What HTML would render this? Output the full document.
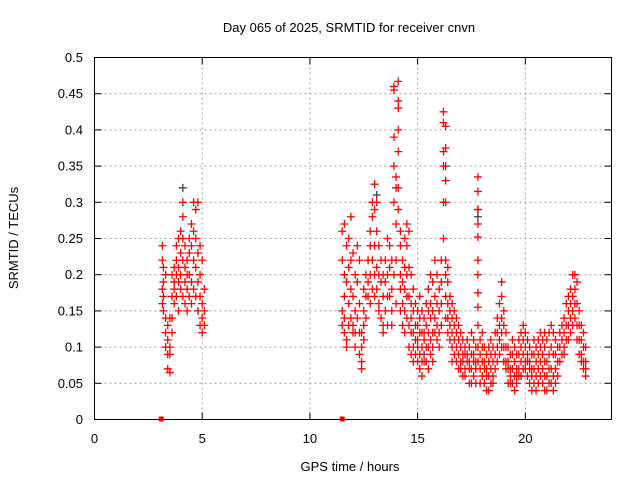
<!DOCTYPE html>
<html><head><meta charset="utf-8"><style>
html,body{margin:0;padding:0;background:#fff}
svg{display:block;font-family:"Liberation Sans",sans-serif}
</style></head><body>
<svg id="chart" width="640" height="480" viewBox="0 0 640 480" xmlns="http://www.w3.org/2000/svg">
<rect width="640" height="480" fill="#fff"/>
<text x="349" y="32" font-size="13" text-anchor="middle">Day 065 of 2025, SRMTID for receiver cnvn</text>
<text transform="translate(18,238) rotate(-90)" font-size="13" text-anchor="middle">SRMTID / TECUs</text>
<text x="350" y="471" font-size="13" text-anchor="middle">GPS time / hours</text>
<g id="grid"></g><g id="axes"></g><g id="marks"></g>
<rect x="94.5" y="57.5" width="517" height="362" fill="none" stroke="#000" stroke-width="1"/>
</svg>
<script>
const xTicks=[0,5,10,15,20];
const yTicks=[0,0.05,0.1,0.15,0.2,0.25,0.3,0.35,0.4,0.45,0.5];
const yTickLabels=["0","0.05","0.1","0.15","0.2","0.25","0.3","0.35","0.4","0.45","0.5"];
const zeroTimes=[3.1,11.5];
const grayTimes=[4.1,13.1,16.3,17.8,17.8,15.3,20.0];
const grayValues=[0.32,0.31,0.35,0.28,0.29,0.09,0.12];
const groupTimes=[3.15,3.2,3.3,3.4,3.5,3.6,3.7,3.8,3.9,4.0,4.1,4.2,4.3,4.4,4.5,4.6,4.7,4.8,4.9,5.0,5.1,
11.5,11.6,11.7,11.8,11.9,12.0,12.1,12.2,12.3,12.4,12.5,12.6,12.7,12.8,12.9,13.0,13.1,13.2,13.3,13.4,13.5,13.6,13.7,13.8,13.9,14.0,14.1,14.2,14.3,14.4,14.5,14.6,14.7,14.8,14.9,15.0,15.1,15.2,15.3,15.4,15.5,15.6,15.7,15.8,15.9,16.0,16.1,16.2,16.3,16.4,16.5,16.6,16.7,16.8,16.9,17.0,17.1,17.2,17.3,17.4,17.5,17.6,17.7,17.8,17.9,18.0,18.1,18.2,18.3,18.4,18.5,18.6,18.7,18.8,18.9,19.0,19.1,19.2,19.3,19.4,19.5,19.6,19.7,19.8,19.9,20.0,20.1,20.2,20.3,20.4,20.5,20.6,20.7,20.8,20.9,21.0,21.1,21.2,21.3,21.4,21.5,21.6,21.7,21.8,21.9,22.0,22.1,22.2,22.3,22.4,22.5,22.6,22.7,22.8];
const groupValues=[[0.24,0.22,0.18,0.16],[0.21,0.19,0.15,0.17],[0.2,0.14,0.12,0.1],[0.09,0.07,0.13,0.11],[0.065,0.09,0.14,0.1],[0.14,0.17,0.2,0.12],[0.19,0.21,0.16,0.18],[0.22,0.2,0.17,0.24],[0.19,0.25,0.21,0.15],[0.23,0.18,0.2,0.26],[0.3,0.28,0.25,0.22,0.17],[0.24,0.21,0.19,0.16],[0.2,0.22,0.18,0.15],[0.23,0.25,0.2,0.17],[0.27,0.24,0.19,0.16],[0.3,0.26,0.22,0.18],[0.29,0.25,0.21,0.17],[0.3,0.23,0.19,0.15],[0.24,0.2,0.17,0.13],[0.22,0.16,0.14,0.12],[0.18,0.15,0.13],
[0.26,0.22,0.15,0.13],[0.27,0.2,0.17,0.14,0.12],[0.24,0.19,0.11,0.1],[0.25,0.21,0.16,0.13],[0.28,0.22,0.18,0.14],[0.23,0.17,0.13,0.12],[0.2,0.15,0.12,0.1],[0.24,0.19,0.14],[0.22,0.16,0.12,0.09],[0.1,0.08,0.07,0.12],[0.15,0.18,0.13,0.11],[0.2,0.17,0.14],[0.19,0.22,0.17],[0.26,0.24,0.2,0.16],[0.3,0.28,0.22,0.18],[0.325,0.29,0.24,0.2,0.17],[0.3,0.26,0.21,0.18],[0.24,0.2,0.16,0.15],[0.22,0.19,0.14],[0.2,0.17,0.13,0.12],[0.22,0.19,0.15],[0.25,0.2,0.17,0.13],[0.24,0.21,0.17],[0.22,0.18,0.15,0.13],[0.46,0.455,0.39,0.35,0.3,0.2],[0.335,0.32,0.27,0.22,0.16],[0.467,0.44,0.43,0.4,0.37,0.32,0.29],[0.26,0.24,0.2,0.18,0.15],[0.22,0.19,0.16,0.13],[0.25,0.21,0.18,0.15,0.12],[0.27,0.24,0.2,0.17,0.14],[0.26,0.21,0.17,0.13,0.1],[0.2,0.16,0.14,0.12,0.09],[0.18,0.15,0.12,0.1,0.08],[0.16,0.13,0.11,0.09],[0.15,0.13,0.11,0.1,0.08],[0.17,0.14,0.12,0.09,0.07],[0.15,0.12,0.1,0.08,0.06],[0.14,0.12,0.11,0.08],[0.16,0.13,0.1,0.08],[0.18,0.15,0.12,0.1,0.07],[0.2,0.16,0.14,0.11,0.09],[0.19,0.15,0.12,0.1,0.08],[0.22,0.17,0.14,0.12],[0.2,0.16,0.13,0.11],[0.18,0.15,0.12,0.1],[0.22,0.19,0.16,0.13],[0.425,0.41,0.37,0.35,0.3,0.25],[0.405,0.375,0.33,0.3,0.22,0.2,0.17,0.14],[0.21,0.19,0.16,0.14,0.12],[0.17,0.15,0.13,0.11],[0.16,0.14,0.12,0.1,0.08],[0.15,0.13,0.11,0.09],[0.14,0.12,0.1,0.08],[0.13,0.11,0.09,0.07],[0.12,0.1,0.08,0.07],[0.11,0.09,0.08,0.06],[0.1,0.09,0.07,0.06],[0.11,0.09,0.08],[0.1,0.08,0.07,0.05],[0.12,0.09,0.07,0.05],[0.11,0.09,0.08,0.06],[0.1,0.08,0.07,0.05],[0.335,0.315,0.29,0.27,0.252,0.22,0.2,0.175,0.155,0.13,0.1,0.08],[0.11,0.09,0.07,0.05],[0.12,0.1,0.08,0.06],[0.1,0.08,0.07,0.05],[0.09,0.07,0.06,0.04],[0.1,0.08,0.06,0.04],[0.11,0.09,0.07,0.05],[0.1,0.08,0.06,0.05],[0.12,0.09,0.07],[0.14,0.12,0.1,0.08],[0.16,0.13,0.11,0.09],[0.19,0.17,0.14,0.12,0.1],[0.15,0.13,0.1,0.08],[0.12,0.1,0.08,0.07],[0.1,0.08,0.07,0.05],[0.09,0.07,0.06,0.05],[0.11,0.09,0.07,0.05],[0.1,0.08,0.06,0.04],[0.09,0.07,0.06,0.05],[0.11,0.09,0.07,0.06],[0.12,0.1,0.08,0.06],[0.13,0.11,0.09,0.07],[0.12,0.1,0.08,0.07],[0.11,0.09,0.08,0.06],[0.1,0.08,0.07,0.05],[0.09,0.07,0.06,0.04],[0.11,0.09,0.07,0.05],[0.1,0.08,0.06,0.04],[0.11,0.09,0.07,0.05],[0.12,0.1,0.08,0.06],[0.11,0.09,0.07,0.05],[0.12,0.1,0.08,0.06,0.04],[0.11,0.08,0.06,0.04],[0.12,0.09,0.07,0.05],[0.13,0.1,0.07,0.05],[0.12,0.09,0.06,0.04],[0.11,0.09,0.07,0.05],[0.1,0.08,0.06],[0.12,0.1,0.08],[0.13,0.11,0.09],[0.14,0.12,0.1,0.09],[0.16,0.13,0.11],[0.17,0.15,0.13,0.11],[0.18,0.16,0.14,0.12],[0.2,0.17,0.15,0.13],[0.2,0.18,0.16,0.14],[0.19,0.16,0.13,0.11],[0.15,0.13,0.11,0.09],[0.13,0.11,0.09,0.08],[0.12,0.1,0.08,0.07],[0.1,0.08,0.07,0.06]];

const NS="http://www.w3.org/2000/svg";
const X0=94.5,X1=611.5,Y0=419.5,Y1=57.5,XMAX=24,YMAX=0.5;
const xs=t=>X0+(X1-X0)*t/XMAX;
const ys=v=>Y0-(Y0-Y1)*v/YMAX;
function mk(tag,attrs,parent){const e=document.createElementNS(NS,tag);for(const k in attrs)e.setAttribute(k,attrs[k]);parent.appendChild(e);return e;}
const grid=document.getElementById('grid'),axes=document.getElementById('axes'),marks=document.getElementById('marks');
yTicks.forEach((v,i)=>{
  if(v>0&&v<YMAX){const g=mk('line',{x1:X0,x2:X1,y1:ys(v),y2:ys(v),stroke:'#a0a0a0','stroke-dasharray':'2,3'},grid);
  
  }
  const t1=mk('line',{x1:X0,x2:X0+7,y1:ys(v),y2:ys(v),stroke:'#000'},axes);
  
  
  const t2=mk('line',{x1:X1-7,x2:X1,y1:ys(v),y2:ys(v),stroke:'#000'},axes);
  
  
  const lb=mk('text',{x:83,y:ys(v)+4.5,'font-size':13,'text-anchor':'end'},axes);
  lb.textContent=yTickLabels[i];
  
  
});
xTicks.forEach(t=>{
  if(t>0){const g=mk('line',{x1:xs(t),x2:xs(t),y1:Y0,y2:Y1,stroke:'#a0a0a0','stroke-dasharray':'2,3'},grid);
  
  }
  const t1=mk('line',{x1:xs(t),x2:xs(t),y1:Y0,y2:Y0-7,stroke:'#000'},axes);
  
  
  const t2=mk('line',{x1:xs(t),x2:xs(t),y1:Y1,y2:Y1+7,stroke:'#000'},axes);
  
  
  const lb=mk('text',{x:xs(t),y:443,'font-size':13,'text-anchor':'middle'},axes);
  lb.textContent=String(t);
  
  
});
function cross(t,v,color,name){
  const x=xs(t),y=ys(v);
  const p=mk('path',{d:`M${x-4},${y}H${x+4}M${x},${y-4}V${y+4}`,stroke:color,'stroke-width':1.3,fill:'none'},marks);
  
  
}
grayTimes.forEach((t,i)=>cross(t,grayValues[i],'#404040','gray-point'));
groupTimes.forEach((t,i)=>groupValues[i].forEach(v=>cross(t,v,'#ff0000','srmtid-point')));
zeroTimes.forEach(t=>{
  const r=mk('rect',{x:xs(t)-2.5,y:ys(0)-3,width:5,height:5,fill:'#ff0000'},marks);
  
  
});
</script>
</body></html>
